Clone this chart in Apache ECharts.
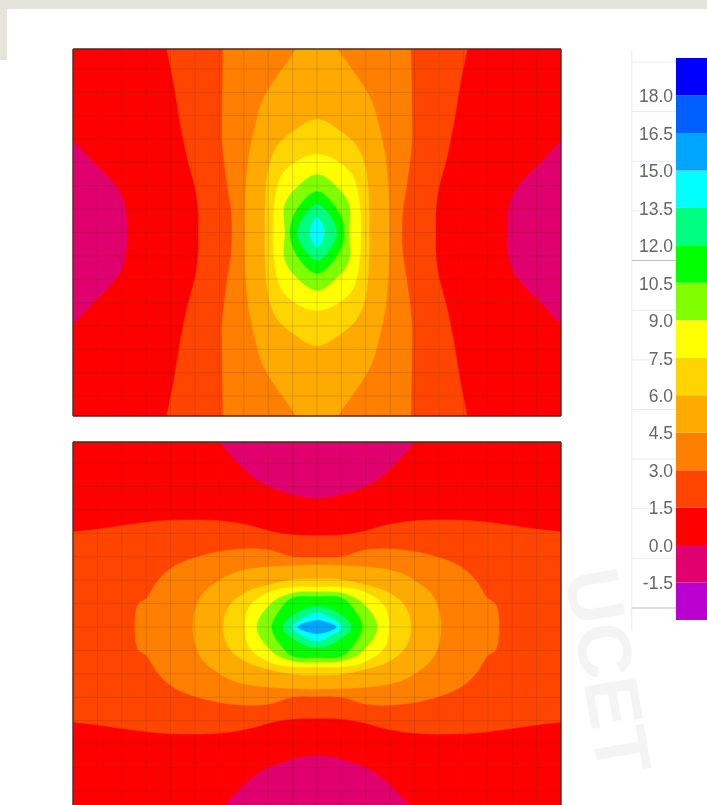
<!DOCTYPE html>
<html><head><meta charset="utf-8">
<style>html,body{margin:0;padding:0;background:#fff;overflow:hidden}#chart{width:707px;height:805px;filter:blur(0.7px)}</style>
<script src="https://cdn.jsdelivr.net/npm/echarts@6/dist/echarts.min.js"></script>
</head><body><div id="chart"></div>
<script>
// Colour bar: band boundaries (value units) and the colour of each band, low to high
const levels = [-3,-1.5,0,1.5,3,4.5,6,7.5,9,10.5,12,13.5,15,16.5,18,19.5];
const bandColors = ['#b900d0','#e0006e','#ff0000','#ff4500','#ff8000','#ffaa00','#ffd500','#ffff00','#80ff00','#00ff00','#00ff80','#00ffff','#00a5ff','#0060ff','#0000ff'];

// Mesh lines of the two plates (mesh units, centre of plate = 0,0)
const meshX = [-9,-8,-7,-6,-5,-4,-3,-2,-1,0,1,2,3,4,5,6,7,8,9];
const meshY = [-7,-6,-5,-4,-3,-2,-1,0,1,2,3,4,5,6,7];

// Upper plate: one quadrant of each iso-line, as [x, y] in mesh units.
// Lines that leave the plate carry on past its edge and are clipped there.
const upperNeg0  = [[12,5.4],[10,3.9],[9.18,3.0],[8.48,2.27],[7.95,1.41],[7.79,0]];
const upper1p5   = [[6.6,10.2],[6.16,7.86],[5.9,6.55],[5.61,4.71],[5.33,3.25],[4.98,1.84],[4.86,0.8],[4.86,0]];
const upper3p0   = [[3.85,10.2],[3.85,7.86],[3.88,5.5],[3.89,3.98],[3.69,2.14],[3.52,1.0],[3.48,0]];
const upper4p5   = [[-0.3,10.2],[0.85,7.86],[1.64,6.68],[2.21,5.69],[2.54,4.54],[2.83,3.0],[2.95,1.2],[2.95,0]];
const upper6p0   = [[0,4.84],[0.98,4.32],[1.64,3.68],[2.0,2.7],[2.13,1.0],[2.13,0]];
const upper7p5   = [[0,3.34],[0.7,3.13],[1.43,2.48],[1.72,1.41],[1.8,0]];
const upper9p0   = [[0,2.48],[0.7,2.05],[1.31,1.2],[1.31,0]];
const upper10p5  = [[0,1.75],[0.82,0.98],[1.1,0]];
const upper12p0  = [[0,1.2],[0.5,0.75],[0.8,0]];
const upper13p5  = [[0,0.65],[0.3,0]];

// Lower plate: same layout
const lowerNeg0  = [[5.6,10],[3.98,7.9],[3.28,7.05],[2.34,6.2],[1.23,5.73],[0,5.5]];
const lower1p5   = [[0,3.9],[0.98,3.93],[1.8,4.06],[2.87,4.36],[3.98,4.53],[5.08,4.57],[6.43,4.53],[7.79,4.36],[9.18,4.15],[10,4.06],[12,3.7]];
const lower3p0   = [[0,2.97],[0.98,2.99],[2.05,3.3],[3.44,3.3],[4.92,2.99],[5.9,2.56],[6.56,1.92],[6.97,1.24],[7.34,0.94],[7.46,0]];
const lower4p5   = [[0,2.65],[0.98,2.62],[2.05,2.56],[3.28,2.35],[4.1,1.92],[4.8,1.24],[5.08,0]];
const lower6p0   = [[0,2.05],[0.98,2.02],[2.05,1.78],[2.87,1.5],[3.57,0.94],[3.85,0]];
const lower7p5   = [[0,1.7],[0.98,1.7],[1.93,1.5],[2.75,0.9],[2.95,0]];
const lower9p0   = [[0,1.5],[0.98,1.45],[1.85,1.03],[2.46,0]];
const lower10p5  = [[0,1.3],[0.98,1.25],[1.52,0.73],[1.85,0]];
const lower12p0  = [[0,0.88],[0.7,0.68],[1.4,0]];
const lower13p5  = [[0,0.62],[0.5,0.42],[1.02,0]];
const lower15p0  = [[0,0.28],[0.78,0]];

// Faint ruler behind the colour bar
const rulerTicks = [0,1,2,3,4,5,6,7,8,9,10,11];
const rulerDark = [4,11];

const upperContours = [
  {pts:upperNeg0,kind:'sides',band:1},{pts:upper1p5,kind:'ring',band:3},{pts:upper3p0,kind:'ring',band:4},
  {pts:upper4p5,kind:'ring',band:5},{pts:upper6p0,kind:'ring',band:6},{pts:upper7p5,kind:'ring',band:7},
  {pts:upper9p0,kind:'ring',band:8},{pts:upper10p5,kind:'ring',band:9},{pts:upper12p0,kind:'ring',band:10},
  {pts:upper13p5,kind:'ring',band:11}];
const lowerContours = [
  {pts:lowerNeg0,kind:'caps',band:1},{pts:lower1p5,kind:'ring',band:3},{pts:lower3p0,kind:'ring',band:4},
  {pts:lower4p5,kind:'ring',band:5},{pts:lower6p0,kind:'ring',band:6},{pts:lower7p5,kind:'ring',band:7},
  {pts:lower9p0,kind:'ring',band:8},{pts:lower10p5,kind:'ring',band:9},{pts:lower12p0,kind:'ring',band:10},
  {pts:lower13p5,kind:'ring',band:11},{pts:lower15p0,kind:'ring',band:12}];

const mx = p => p.map(q=>[-q[0],q[1]]);
const my = p => p.map(q=>[q[0],-q[1]]);
const rev = p => p.slice().reverse();
const dedupe = p => p.filter((q,i)=>{const r=p[(i+p.length-1)%p.length];return q[0]!==r[0]||q[1]!==r[1];});
function loops(c){
  const p=c.pts;
  if(c.kind==='ring') return [dedupe([...p,...my(rev(p)),...mx(my(p)),...mx(rev(p))])];
  if(c.kind==='sides'){const r=dedupe([...p,...my(rev(p))]);return [r,mx(r)];}
  const t=dedupe([...p,...mx(rev(p))]);return [t,my(t)];
}
function contourSeries(gi,contours){
  return {type:'custom',xAxisIndex:gi,yAxisIndex:gi,silent:true,clip:true,z:2,
    data:contours.map((c,i)=>[i]),
    renderItem(params,api){
      const c=contours[api.value(0)];
      return {type:'group',children:loops(c).map(l=>({type:'polygon',
        shape:{points:l.map(q=>api.coord(q)),smooth:0.35},
        style:{fill:bandColors[c.band],stroke:bandColors[c.band],lineWidth:0.5}}))};
    }};
}
function meshSeries(gi,yMin,yMax){
  const lines=[...meshX.map(x=>[[x,yMin],[x,yMax]]),...meshY.map(y=>[[-10,y],[10,y]])];
  return {type:'custom',xAxisIndex:gi,yAxisIndex:gi,silent:true,clip:true,z:3,
    data:lines.map((l,i)=>[i]),
    renderItem(params,api){
      const l=lines[api.value(0)],a=api.coord(l[0]),b=api.coord(l[1]);
      return {type:'line',shape:{x1:a[0],y1:a[1],x2:b[0],y2:b[1]},
        style:{stroke:'rgba(90,50,0,0.2)',lineWidth:1}};
    }};
}
function borderSeries(gi,edges){
  return {type:'custom',xAxisIndex:gi,yAxisIndex:gi,silent:true,clip:false,z:4,
    data:edges.map((e,i)=>[i]),
    renderItem(params,api){
      const e=edges[api.value(0)],a=api.coord(e[0]),b=api.coord(e[1]);
      return {type:'line',shape:{x1:a[0],y1:a[1],x2:b[0],y2:b[1]},
        style:{stroke:'#4a2a22',lineWidth:1.4}};
    }};
}
const upperY=[-7.855,7.855], lowerY=[-7.6,7.9];
const hidden=(i,min,max)=>({gridIndex:i,type:'value',min,max,show:false});

const chart=echarts.init(document.getElementById('chart'));
chart.setOption({
  animation:false,
  backgroundColor:'#ffffff',
  graphic:[
    {type:'rect',z:-10,silent:true,shape:{x:0,y:0,width:707,height:9},style:{fill:'#e4e4db'}},
    {type:'rect',z:-10,silent:true,shape:{x:0,y:0,width:7,height:60},style:{fill:'#e4e4db'}},
    {type:'text',z:-10,silent:true,x:603,y:672,rotation:-1.40,
      style:{text:'UCET',font:'bold 76px "Liberation Sans"',fill:'#f4f4f4',align:'center',verticalAlign:'middle'}}
  ],
  grid:[
    {left:73,top:49,width:488,height:367,show:true,borderWidth:0,backgroundColor:bandColors[2]},
    {left:73,top:442,width:488,height:363,show:true,borderWidth:0,backgroundColor:bandColors[2]},
    {left:676,top:58,width:31,height:562},
    {left:628,top:62,width:48,height:546},
    {left:676,top:60,width:31,height:562}
  ],
  xAxis:[hidden(0,-10,10),hidden(1,-10,10),hidden(2,0,1),hidden(3,0,1),hidden(4,0,1)],
  yAxis:[hidden(0,upperY[0],upperY[1]),hidden(1,lowerY[0],lowerY[1]),
    hidden(2,-3,19.5),
    {gridIndex:3,type:'value',min:0,max:11,inverse:true,show:false},
    {gridIndex:4,type:'value',min:-3,max:19.5,interval:1.5,
      axisLine:{show:false},axisTick:{show:false},splitLine:{show:false},
      axisLabel:{show:true,showMinLabel:false,showMaxLabel:false,margin:3,
        color:'#666666',fontFamily:'"Liberation Sans"',fontSize:17.5,
        formatter:v=>v.toFixed(1)}}
  ],
  series:[
    contourSeries(0,upperContours),meshSeries(0,upperY[0],upperY[1]),
    borderSeries(0,[[[-10,upperY[1]],[10,upperY[1]]],[[-10,upperY[0]],[10,upperY[0]]],[[-10,upperY[0]],[-10,upperY[1]]],[[10,upperY[0]],[10,upperY[1]]]]),
    contourSeries(1,lowerContours),meshSeries(1,lowerY[0],lowerY[1]),
    borderSeries(1,[[[-10,lowerY[1]],[10,lowerY[1]]],[[-10,lowerY[0]],[-10,lowerY[1]]],[[10,lowerY[0]],[10,lowerY[1]]]]),
    {type:'custom',xAxisIndex:3,yAxisIndex:3,silent:true,clip:false,z:1,
      data:rulerTicks.map(t=>[t]),
      renderItem(params,api){
        const t=api.value(0),a=api.coord([0.08,t]),b=api.coord([1,t]);
        return {type:'line',shape:{x1:a[0],y1:a[1],x2:b[0],y2:b[1]},
          style:{stroke:rulerDark.includes(t)?'rgba(120,135,170,0.55)':'rgba(170,185,215,0.3)',lineWidth:1}};
      }},
    {type:'custom',xAxisIndex:3,yAxisIndex:3,silent:true,clip:false,z:1,
      data:[[0]],
      renderItem(params,api){
        const a=api.coord([0.08,-0.24]),b=api.coord([0.08,11.45]);
        return {type:'line',shape:{x1:a[0],y1:a[1],x2:b[0],y2:b[1]},
          style:{stroke:'rgba(170,185,215,0.3)',lineWidth:1}};
      }},
    {type:'custom',xAxisIndex:2,yAxisIndex:2,silent:true,z:2,
      data:bandColors.map((c,i)=>[levels[i],levels[i+1],i]),
      renderItem(params,api){
        const a=api.coord([0,api.value(1)]),b=api.coord([1,api.value(0)]);
        return {type:'rect',shape:{x:a[0],y:a[1],width:b[0]-a[0],height:b[1]-a[1]},
          style:{fill:bandColors[api.value(2)]}};
      }}
  ]
});
</script></body></html>
